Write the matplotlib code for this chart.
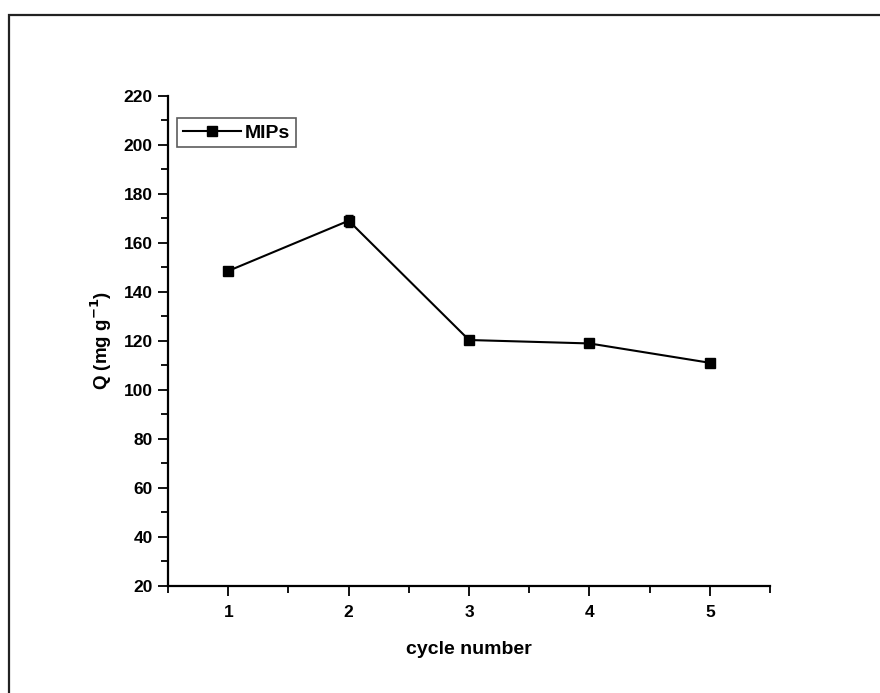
import matplotlib
matplotlib.use("Agg")
import matplotlib.pyplot as plt
from matplotlib.patches import Rectangle
from matplotlib.ticker import MultipleLocator

plt.rcParams['font.family'] = ['Liberation Sans', 'DejaVu Sans']
plt.rcParams['font.weight'] = 'bold'
plt.rcParams['mathtext.default'] = 'bf'

cycles = [1, 2, 3, 4, 5]
q = [148.5, 169.0, 120.3, 118.9, 111.0]
q_err = [1.0, 2.5, 1.0, 1.0, 1.0]

fig = plt.figure(figsize=(8.8, 6.93), dpi=100)
ax = fig.add_axes([0.191, 0.1548, 0.684, 0.707])

ax.errorbar(cycles, q, yerr=q_err, color='black', fmt='none',
            elinewidth=1.0, capsize=3, capthick=1.0)
ax.plot(cycles, q, color='black', marker='s', markersize=7.5,
        linewidth=1.5, label='MIPs')

ax.set_xlim(0.5, 5.5)
ax.set_ylim(20, 220)
ax.xaxis.set_major_locator(MultipleLocator(1))
ax.xaxis.set_minor_locator(MultipleLocator(0.5))
ax.yaxis.set_major_locator(MultipleLocator(20))
ax.yaxis.set_minor_locator(MultipleLocator(10))

for s in ['top', 'right']:
    ax.spines[s].set_visible(False)
for s in ['left', 'bottom']:
    ax.spines[s].set_linewidth(1.6)

ax.tick_params(which='major', direction='out', length=7, width=1.3, labelsize=12.5)
ax.tick_params(which='minor', direction='out', length=4.8, width=1.3)
for lab in ax.get_xticklabels() + ax.get_yticklabels():
    lab.set_fontweight('bold')
ax.tick_params(axis='x', pad=7)
ax.tick_params(axis='y', pad=4)

ax.set_xlabel('cycle number', fontsize=14, fontweight='bold', labelpad=15)
ax.set_ylabel(r'Q (mg g$^{-1}$)', fontsize=13.5, fontweight='bold', labelpad=7)

leg = ax.legend(loc='upper left', bbox_to_anchor=(9 / 602, 1 - 22.3 / 490),
                fontsize=14, frameon=True, fancybox=False, handlelength=3.0,
                handletextpad=0.2, borderpad=0.3, borderaxespad=0.0)
leg.get_frame().set_edgecolor('#333333')
leg.get_frame().set_linewidth(1.2)
for t in leg.get_texts():
    t.set_fontweight('bold')

# outer frame around the figure
fig.patches.append(Rectangle((9 / 880, -0.2), 1.2, 1.2 - 15 / 693,
                             transform=fig.transFigure, fill=False,
                             edgecolor='#222222', linewidth=1.6, clip_on=False))

fig.savefig('out.png', dpi=100)
